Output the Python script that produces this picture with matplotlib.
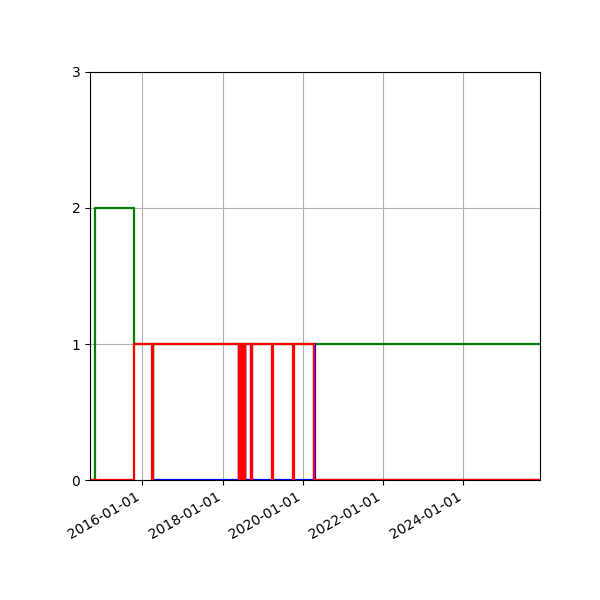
import matplotlib
matplotlib.use("Agg")
import matplotlib.pyplot as plt
import matplotlib.dates as mdates
import pandas as pd

# Green series (step-post)
green_dates = ["2014-09-12", "2014-10-23", "2015-10-17", "2016-04-04", "2016-04-10", "2025-11-28"]
green_vals = [0, 2, 1, 0, 1, 1]

# Blue series (step-post)
blue_dates = ["2016-04-01",
              "2018-05-27", "2018-06-02",
              "2018-07-22", "2018-07-28",
              "2018-09-17", "2018-09-24",
              "2020-04-10", "2020-04-17",
              "2025-11-28"]
blue_vals = [0, 1, 0, 1, 0, 1, 0, 1, 0, 0]

# Red series (step-post)
red_dates = ["2014-09-12", "2015-10-17",
             "2016-03-26", "2016-04-04",
             "2018-05-28", "2018-06-02",
             "2018-06-05", "2018-06-10",
             "2018-06-13", "2018-06-18",
             "2018-06-21", "2018-06-26",
             "2018-06-29", "2018-07-04",
             "2018-07-07", "2018-07-12",
             "2018-07-15", "2018-07-20",
             "2018-07-22", "2018-07-27",
             "2018-09-17", "2018-09-25",
             "2019-03-29", "2019-04-06",
             "2019-10-02", "2019-10-10",
             "2020-04-14", "2025-11-28"]
red_vals = [0, 1,
            0, 1,
            0, 1,
            0, 1,
            0, 1,
            0, 1,
            0, 1,
            0, 1,
            0, 1,
            0, 1,
            0, 1,
            0, 1,
            0, 1,
            0, 0]

x_start = "2014-09-12"
x_end = "2025-11-28"
y_ticks = [0, 1, 2, 3]

fig = plt.figure(figsize=(6, 6), dpi=100)
ax = fig.add_axes([0.15, 0.2, 0.75, 0.68])

ax.step(pd.to_datetime(green_dates), green_vals, where="post", color="green", lw=1.6)
ax.step(pd.to_datetime(blue_dates), blue_vals, where="post", color="blue", lw=1.6)
ax.step(pd.to_datetime(red_dates), red_vals, where="post", color="red", lw=1.6)

ax.set_xlim(pd.Timestamp(x_start), pd.Timestamp(x_end))
ax.set_ylim(0, 3)
ax.set_yticks(y_ticks)
ax.xaxis.set_major_locator(mdates.YearLocator(2))
ax.xaxis.set_major_formatter(mdates.DateFormatter("%Y-%m-%d"))
ax.grid(True)
for lab in ax.get_xticklabels():
    lab.set_rotation(30)
    lab.set_ha("right")

fig.savefig("out.png", dpi=100)
